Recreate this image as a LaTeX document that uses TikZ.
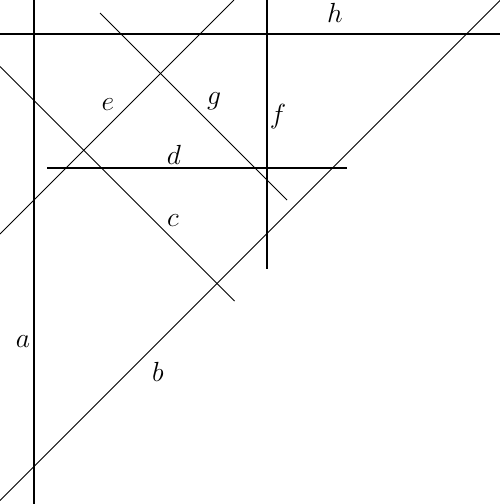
\documentclass[tikz,border=0pt]{standalone}

\tikzset{every picture/.style={line width=0.75pt}}
\tikzset{
  heavyline/.style={line width=1.5pt},
  lightline/.style={line width=0.6pt},
  linelabel/.style={inner sep=0pt,font=\huge}
}

\begin{document}
\begin{tikzpicture}[x=0.75pt,y=0.75pt,yscale=-1,xscale=1]
\useasboundingbox (0,0) rectangle (500,504); %diagram is 500 wide, 504 high

%Straight Lines a
\draw [heavyline]   (34,0) -- (34,504) ;
%Straight Lines h
\draw [heavyline]   (0,33.5) -- (500,33.5) ;
%Straight Lines f
\draw [heavyline]   (267,0) -- (267,269) ;
%Straight Lines d
\draw [heavyline]   (47,167.5) -- (347,167.5) ;
%Straight Lines b
\draw [lightline]   (0,500.5) -- (500.5,0) ;
%Straight Lines e
\draw [lightline]   (0,234) -- (234,0) ;
%Straight Lines g
\draw [lightline]   (100,13) -- (287,200) ;
%Straight Lines c
\draw [lightline]   (0,66.5) -- (234.5,301) ;

% Text Node
\node [linelabel] (lbla) at (23,342) {$a$};
% Text Node
\node [linelabel] (lblb) at (158,372) {$b$};
% Text Node
\node [linelabel] (lblc) at (173,221) {$c$};
% Text Node
\node [linelabel] (lbld) at (174,155) {$d$};
% Text Node
\node [linelabel] (lble) at (108,105) {$e$};
% Text Node
\node [linelabel] (lblf) at (278,117) {$f$};
% Text Node
\node [linelabel] (lblg) at (214,101) {$g$};
% Text Node
\node [linelabel] (lblh) at (335,13) {$h$};

\end{tikzpicture}
\end{document}
